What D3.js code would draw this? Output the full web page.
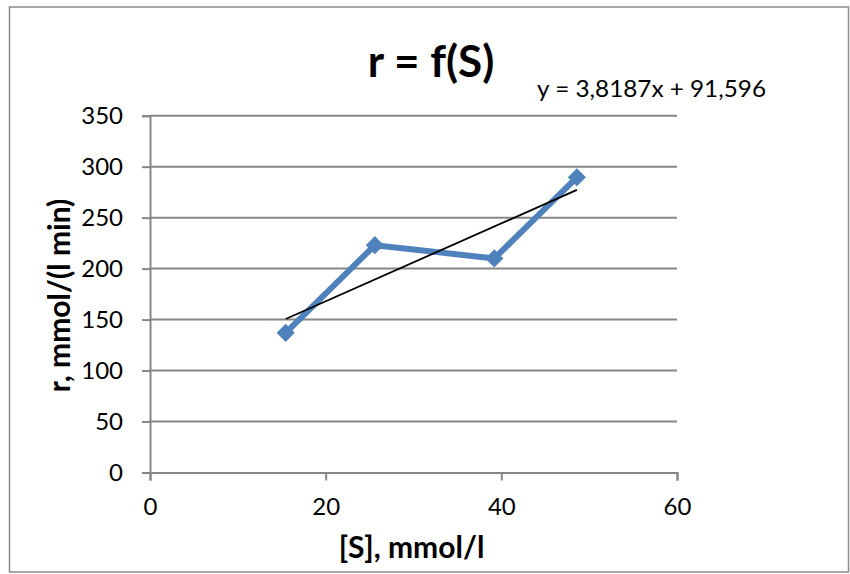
<!DOCTYPE html>
<html><head><meta charset="utf-8">
<script src="https://cdn.jsdelivr.net/npm/d3@7"></script>
<style>body{margin:0;background:#fff}svg{display:block}text{font-family:Lato,"Open Sans",sans-serif}</style>
</head><body>
<script>
const sValues = [15.45, 25.6, 39.2, 48.6];
const rValues = [137, 223, 210, 289.6];
const xTicks = [0, 20, 40, 60];
const yTicks = [0, 50, 100, 150, 200, 250, 300, 350];
const slope = 3.8187, intercept = 91.596;
const titleText = "r = f(S)";
const eqText = "y = 3,8187x + 91,596";
const xLabel = "[S], mmol/l";
const yLabel = "r, mmol/(l min)";

const W = 850, H = 574;
const svg = d3.select("body").append("svg").attr("width", W).attr("height", H);
svg.append("rect").attr("x", 9.5).attr("y", 7).attr("width", 839).attr("height", 565)
  .attr("fill", "#fff").attr("stroke", "#8c8c8c").attr("stroke-width", 1.5);

const x = d3.scaleLinear().domain([0, 60]).range([150, 677]);
const y = d3.scaleLinear().domain([0, 350]).range([472.5, 115.7]);
const grey = "#868686";

svg.append("g").selectAll("line").data(yTicks.filter(d => d > 0)).join("line")
  .attr("x1", x(0)).attr("x2", x(60)).attr("y1", d => y(d)).attr("y2", d => y(d))
  .attr("stroke", grey).attr("stroke-width", 2);

const yAxis = svg.append("g").attr("transform", `translate(${x(0)},0)`)
  .call(d3.axisLeft(y).tickValues(yTicks).tickSize(8).tickPadding(19).tickFormat(d3.format("d")));
const xAxis = svg.append("g").attr("transform", `translate(0,${y(0)})`)
  .call(d3.axisBottom(x).tickValues(xTicks).tickSize(8).tickPadding(17).tickFormat(d3.format("d")));
[yAxis, xAxis].forEach(a => {
  a.select(".domain").attr("stroke", grey).attr("stroke-width", 2);
  a.selectAll(".tick line").attr("stroke", grey).attr("stroke-width", 2);
  a.selectAll("text").attr("font-size", 24).attr("fill", "#000").style("font-family", "Lato, 'Open Sans', sans-serif");
});

const pts = sValues.map((s, i) => [s, rValues[i]]);
svg.append("path").datum(pts)
  .attr("d", d3.line().x(d => x(d[0])).y(d => y(d[1])))
  .attr("fill", "none").attr("stroke", "#4F81BD").attr("stroke-width", 6).attr("stroke-linejoin", "round");

const xmin = d3.min(sValues), xmax = d3.max(sValues);
svg.append("line")
  .attr("x1", x(xmin)).attr("y1", y(slope * xmin + intercept))
  .attr("x2", x(xmax)).attr("y2", y(slope * xmax + intercept))
  .attr("stroke", "#000").attr("stroke-width", 1.8);

svg.append("g").selectAll("path").data(pts).join("path")
  .attr("transform", d => `translate(${x(d[0])},${y(d[1])}) rotate(45)`)
  .attr("d", d3.symbol().type(d3.symbolSquare).size(165))
  .attr("fill", "#4F81BD");

svg.append("text").attr("x", 431).attr("y", 77).attr("text-anchor", "middle")
  .attr("font-size", 44).attr("font-weight", "bold").text(titleText);
svg.append("text").attr("x", 537).attr("y", 97)
  .attr("font-size", 23.5).attr("textLength", 229).attr("lengthAdjust", "spacingAndGlyphs").text(eqText);
svg.append("text").attr("x", 411.5).attr("y", 558).attr("text-anchor", "middle")
  .attr("font-size", 30).attr("font-weight", "bold").text(xLabel);
svg.append("text").attr("transform", "translate(70,295.5) rotate(-90)").attr("text-anchor", "middle")
  .attr("font-size", 30).attr("font-weight", "bold").text(yLabel);
</script>
</body></html>
